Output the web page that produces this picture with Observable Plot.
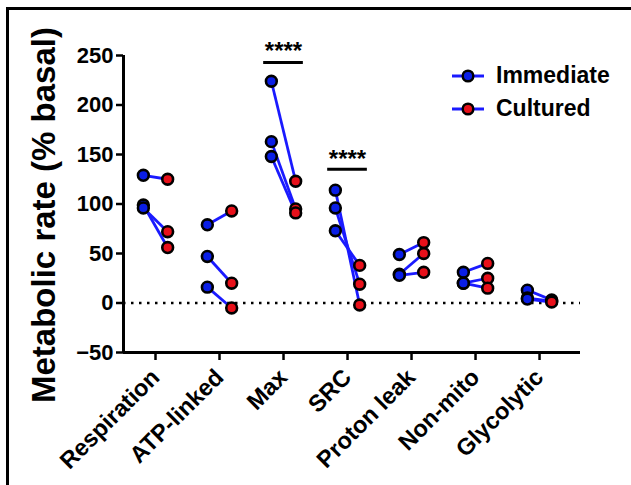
<!DOCTYPE html>
<html><head><meta charset="utf-8">
<script src="https://cdn.jsdelivr.net/npm/d3@7"></script>
<script src="https://cdn.jsdelivr.net/npm/@observablehq/plot@0.6"></script>
<style>
body{margin:0;background:#fff;}
#wrap{position:relative;width:631px;height:485px;overflow:hidden;font-family:"Liberation Sans",Arial,sans-serif;font-weight:bold;}
#frame{position:absolute;left:6px;top:7px;right:-10px;bottom:-10px;border-top:3px solid #000;border-left:3px solid #000;pointer-events:none;}
#chart{position:absolute;left:0;top:0;}
#legend{position:absolute;left:450px;top:59px;font-size:23px;line-height:33px;color:#000;}
#legend div{display:flex;align-items:center;}
#legend svg{margin-right:10px;}
#ylab{position:absolute;left:44px;top:215px;transform:translate(-50%,-50%) rotate(-90deg);white-space:nowrap;font-size:33px;color:#000;}
</style></head>
<body>
<div id="wrap"><div id="chart"></div><div id="ylab">Metabolic rate (% basal)</div><div id="legend"></div><div id="frame"></div></div>
<script>
const categories = ["Respiration","ATP-linked","Max","SRC","Proton leak","Non-mito","Glycolytic"];
const immediate = [[129,99,96],[79,47,16],[224,163,148],[114,96,73],[49,29,28],[31,20,20],[13,5,4]];
const cultured  = [[125,56,72],[93,20,-5],[123,95,91],[-2,19,38],[61,50,31],[40,25,15],[3,2,1]];
const yTicks = [-50,0,50,100,150,200,250];
const seriesNames = ["Immediate","Cultured"];
const seriesColors = ["#0a1ee6","#e8101a"];
const sigCategories = ["Max","SRC"];
const sigLabel = "****";
const sigStarY = [258,149];
const sigBarY = [243,135];

const off = 0.19;
const rows = [];
categories.forEach((c,i)=>immediate[i].forEach((v,j)=>rows.push({i, imm:v, cul:cultured[i][j]})));
const sig = sigCategories.map((c,k)=>({i:categories.indexOf(c), star:sigStarY[k], bar:sigBarY[k]}));

const plot = Plot.plot({
  width:631, height:485,
  marginLeft:123, marginRight:51, marginTop:55, marginBottom:133,
  x:{domain:[0,7.14]},
  y:{domain:[-50,250]},
  style:{fontFamily:'"Liberation Sans",Arial,sans-serif', fontWeight:"bold", color:"#000", background:"transparent", overflow:"visible"},
  marks:[
    Plot.ruleY([0],{strokeDasharray:"2.5,5.5", strokeWidth:2.5, stroke:"#000"}),
    Plot.link(rows,{x1:d=>d.i+0.5-off, y1:"imm", x2:d=>d.i+0.5+off, y2:"cul", stroke:"#1a1aff", strokeWidth:2.8}),
    Plot.dot(rows,{x:d=>d.i+0.5-off, y:"imm", r:5.4, fill:seriesColors[0], stroke:"#000", strokeWidth:2.6}),
    Plot.dot(rows,{x:d=>d.i+0.5+off, y:"cul", r:5.4, fill:seriesColors[1], stroke:"#000", strokeWidth:2.6}),
    Plot.ruleY(sig,{y:"bar", x1:d=>d.i+0.5-0.31, x2:d=>d.i+0.5+0.31, strokeWidth:3, stroke:"#000"}),
    Plot.text(sig,{y:"star", x:d=>d.i+0.5, text:()=>sigLabel, fontSize:24, fontWeight:"bold", fill:"#000", dy:4}),
    Plot.axisY({ticks:yTicks, tickSize:7, strokeWidth:2.5, fontSize:22, tickPadding:3, label:null}),
    Plot.axisX({ticks:categories.map((c,i)=>i+0.5), tickFormat:v=>categories[Math.round(v-0.5)], tickSize:8, strokeWidth:2.5, tickRotate:-45, fontSize:23.5, tickPadding:13, label:null}),
    Plot.ruleX([0],{y1:-50, y2:250, strokeWidth:3, stroke:"#000"}),
    Plot.ruleY([-50],{x1:0, x2:7.14, strokeWidth:3, stroke:"#000"})
  ]
});
document.getElementById("chart").appendChild(plot);

const lg = document.getElementById("legend");
seriesNames.forEach((n,k)=>{
  const d = document.createElement("div");
  d.innerHTML = `<svg width="36" height="16"><line x1="2" y1="8" x2="34" y2="8" stroke="#1a1aff" stroke-width="3"/><circle cx="18" cy="8" r="5.3" fill="${seriesColors[k]}" stroke="#000" stroke-width="2.5"/></svg><span>${n}</span>`;
  lg.appendChild(d);
});
</script>
</body></html>
